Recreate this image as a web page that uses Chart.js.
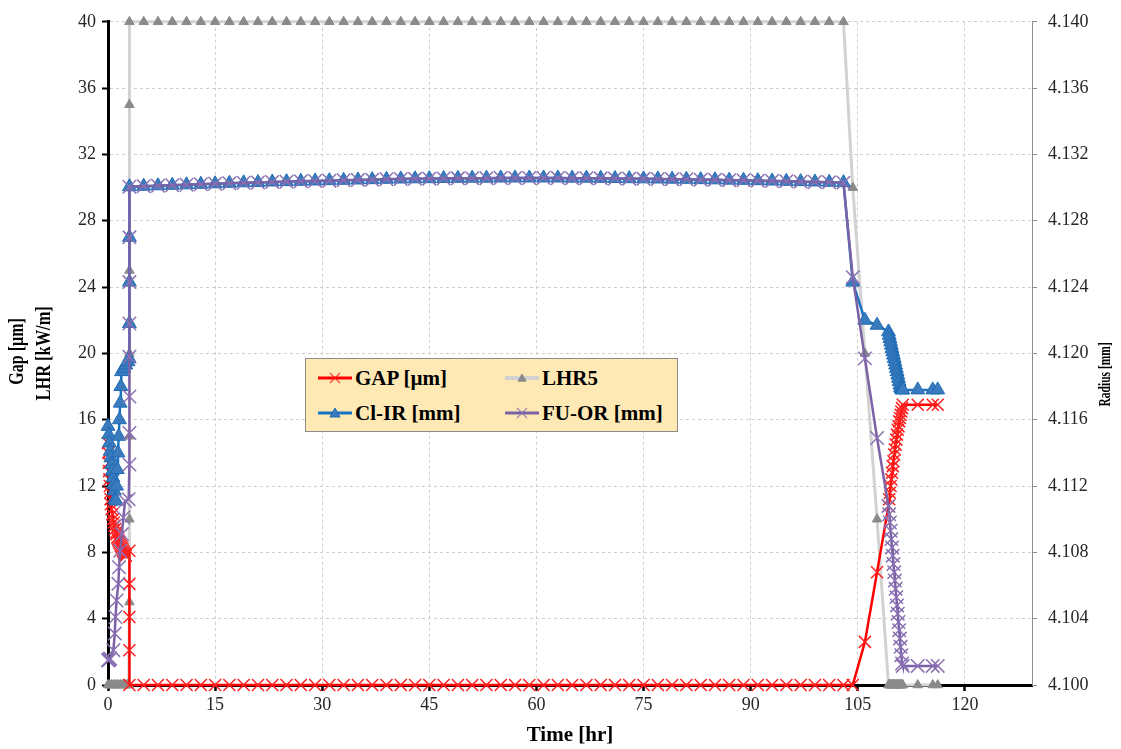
<!DOCTYPE html>
<html>
<head>
<meta charset="utf-8">
<script src="https://cdn.jsdelivr.net/npm/chart.js@4.4.1/dist/chart.umd.min.js"></script>
<style>
  html,body{margin:0;padding:0;background:#fff;}
  #wrap{position:relative;width:1121px;height:749px;}
  #legend{position:absolute;left:305px;top:358px;width:371px;height:72px;background:#FEE9B5;border:1px solid #8c8c8c;
    font:bold 21px 'Liberation Serif','Times New Roman',serif;color:#000;}
  .item{position:absolute;display:flex;align-items:center;height:24px;white-space:nowrap;}
  .item svg{margin-right:3px;flex:none;}
</style>
</head>
<body>
<div id="wrap">
  <canvas id="c" width="1121" height="749"></canvas>
  <div id="legend"></div>
</div>
<script>
// === DATA (time in hr) ===
const xTicks = [0,15,30,45,60,75,90,105,120];
const yTicks = [0,4,8,12,16,20,24,28,32,36,40];
const y1Ticks = [4.100,4.104,4.108,4.112,4.116,4.120,4.124,4.128,4.132,4.136,4.140];

// full power plateau, shared by all series
const tPlateau = [3,5,7,9,11,13,15,17,19,21,23,25,27,29,31,33,35,37,39,41,43,45,47,49,51,53,55,57,59,61,63,65,67,69,71,73,75,77,79,81,83,85,87,89,91,93,95,97,99,101,103];
// shutdown, shared by all series
const tEnd = [104.3,106.0,107.7,109.3,109.4,109.5,109.6,109.7,109.8,109.9,110.0,110.1,110.2,110.3,110.4,110.5,110.6,110.7,110.8,110.9,111.0,111.1,111.2,111.3,113.4,115.5,116.2];

// GAP [um]
const gapStartT = [0,0.05,0.1,0.15,0.2,0.25,0.3,0.35,0.4,0.5,0.6,0.7,0.8,0.9,1.0,1.1,1.2,1.3,1.4,1.5,1.6,1.7,1.8,1.9,2.0,2.1,2.2,2.3,2.4,2.5,3,3,3,3];
const gapStart = [14.6,14.0,13.4,12.9,12.4,12.0,11.6,11.2,10.9,10.6,10.3,10.0,9.8,9.6,9.4,9.2,9.1,8.9,8.8,8.7,8.6,8.5,8.4,8.3,8.2,8.1,8.0,7.9,7.85,7.8,8.1,6.1,4.1,2.1];
const gapPlateau = [0,0,0,0,0,0,0,0,0,0,0,0,0,0,0,0,0,0,0,0,0,0,0,0,0,0,0,0,0,0,0,0,0,0,0,0,0,0,0,0,0,0,0,0,0,0,0,0,0,0,0];
const gapEnd = [0,2.6,6.8,10.8,11.2,11.6,12.0,12.4,12.8,13.2,13.5,13.9,14.2,14.5,14.8,15.1,15.4,15.6,15.9,16.1,16.3,16.5,16.7,16.9,16.9,16.9,16.9];

// LHR5 [kW/m]
const lhrStartT = [0,0.25,0.5,0.75,1.0,1.25,1.5,1.75,2.0,2.25,2.5,2.75,2.9,3,3,3,3,3,3,3];
const lhrStart = [0,0,0,0,0,0,0,0,0,0,0,0,0,5,10,15,20,25,30,35];
const lhrPlateau = [40,40,40,40,40,40,40,40,40,40,40,40,40,40,40,40,40,40,40,40,40,40,40,40,40,40,40,40,40,40,40,40,40,40,40,40,40,40,40,40,40,40,40,40,40,40,40,40,40,40,40];
const lhrEnd = [30,20,10,0,0,0,0,0,0,0,0,0,0,0,0,0,0,0,0,0,0,0,0,0,0,0,0];

// Cl-IR [mm]
const clirStartT = [0,0.1,0.2,0.3,0.4,0.5,0.6,0.7,0.8,0.9,1.0,1.1,1.2,1.3,1.4,1.5,1.6,1.7,1.8,1.9,2.2,2.5,2.8,2.95,3,3,3];
const clirStart = [4.1156,4.1151,4.1146,4.1141,4.1137,4.1133,4.1129,4.1125,4.1121,4.1117,4.1112,4.1111,4.1120,4.1130,4.1140,4.1150,4.1160,4.1170,4.1180,4.1189,4.1191,4.1193,4.1195,4.1197,4.1218,4.1243,4.1270];
const clirPlateau = [4.13005,4.13008,4.13011,4.13014,4.13017,4.13020,4.13023,4.13026,4.13029,4.13031,
  4.13034,4.13036,4.13038,4.13040,4.13042,4.13044,4.13046,4.13048,4.13050,4.13052,
  4.13053,4.13054,4.13055,4.13056,4.13057,4.13057,4.13058,4.13058,4.13058,4.13058,
  4.13058,4.13057,4.13057,4.13056,4.13055,4.13054,4.13053,4.13052,4.13051,4.13050,
  4.13048,4.13047,4.13045,4.13044,4.13042,4.13040,4.13038,4.13036,4.13034,4.13032,4.13030];
const clirEnd = [4.1243,4.1220,4.1217,4.1213,4.1211,4.1209,4.1207,4.1205,4.1203,4.1201,4.1199,4.1197,4.1195,4.1193,4.1191,4.1189,4.1187,4.1185,4.1183,4.1181,4.11795,4.11785,4.1178,4.1178,4.1178,4.1178,4.1178];

// FU-OR [mm]
const fuorStartT = [0,0.1,0.2,0.3,0.75,0.95,1.05,1.2,1.45,1.55,1.7,1.95,2.15,2.4,2.9,3,3,3,3,3,3,3];
const fuorStart = [4.1015,4.1015,4.10155,4.1016,4.1021,4.1031,4.1041,4.1051,4.1061,4.1071,4.1081,4.1091,4.1101,4.1111,4.1112,4.1133,4.1152,4.1174,4.1198,4.1218,4.1243,4.1270];
const fuorPlateau = clirPlateau; // gap closed: fuel OR sits on clad IR
const fuorEnd = [4.1246,4.1197,4.1149,4.1108,4.1103,4.1098,4.1093,4.1088,4.1083,4.1078,4.1073,4.1068,4.1063,4.1058,4.1053,4.1048,4.1043,4.1038,4.1033,4.1028,4.1023,4.1018,4.1013,4.10115,4.10115,4.10115,4.10115];

// === CHART ===
const FONT = "'Liberation Serif','Times New Roman',serif";
const pts = (ts, vs) => ts.map((t, i) => ({x: t, y: vs[i]}));

const datasets = [
  {label:'GAP [µm]', yAxisID:'y', order:3,
   data:pts([...gapStartT, ...tPlateau, ...tEnd], [...gapStart, ...gapPlateau, ...gapEnd]),
   borderColor:'#FF0000', borderWidth:2.5, pointStyle:'crossRot', pointRadius:8.5,
   pointBorderColor:'#FF2020', pointBackgroundColor:'#FF2020', pointBorderWidth:1.5},
  {label:'LHR5', yAxisID:'y', order:4,
   data:pts([...lhrStartT, ...tPlateau, ...tEnd], [...lhrStart, ...lhrPlateau, ...lhrEnd]),
   borderColor:'#d2d2d2', borderWidth:3, pointStyle:'triangle', pointRadius:5.5,
   pointBorderColor:'#8a8a8a', pointBackgroundColor:'#8a8a8a', pointBorderWidth:1},
  {label:'Cl-IR [mm]', yAxisID:'y1', order:2,
   data:pts([...clirStartT, ...tPlateau, ...tEnd], [...clirStart, ...clirPlateau, ...clirEnd]),
   borderColor:'#1a72c2', borderWidth:2.5, pointStyle:'triangle', pointRadius:8,
   pointBorderColor:'#1f6cb6', pointBackgroundColor:'#3a7bbd', pointBorderWidth:1},
  {label:'FU-OR [mm]', yAxisID:'y1', order:1,
   data:pts([...fuorStartT, ...tPlateau, ...tEnd], [...fuorStart, ...fuorPlateau, ...fuorEnd]),
   borderColor:'#7b62a6', borderWidth:2.5, pointStyle:'crossRot', pointRadius:9.5,
   pointBorderColor:'#8a70b2', pointBackgroundColor:'#8a70b2', pointBorderWidth:1.5},
];
datasets.forEach(d => { d.tension = 0; d.fill = false; d.clip = false; });

const setTicks = arr => scale => { scale.ticks = arr.map(v => ({value: v})); };

// rotated side titles (bottom-to-top, condensed like the original)
const sideTitles = {
  id:'sideTitles',
  afterDraw(chart) {
    const ctx = chart.ctx, a = chart.chartArea;
    const mid = (a.top + a.bottom) / 2;
    const draw = (txt, x, y, size, squeeze) => {
      ctx.save();
      ctx.translate(x, y); ctx.rotate(-Math.PI / 2); ctx.scale(squeeze, 1);
      ctx.font = `bold ${size}px ${FONT}`;
      ctx.fillStyle = '#000'; ctx.textAlign = 'center'; ctx.textBaseline = 'middle';
      ctx.fillText(txt, 0, 0);
      ctx.restore();
    };
    draw('Gap [µm]', 18, mid - 2, 20, 0.8);
    draw('LHR [kW/m]', 45, mid, 20, 0.82);
    draw('Radius [mm]', 1106, mid + 21, 16, 0.72);
  }
};

const tickFont = {family: FONT, size: 18};
const chart = new Chart(document.getElementById('c'), {
  type:'line',
  data:{datasets},
  plugins:[sideTitles],
  options:{responsive:false, animation:false,
    layout:{padding:{top:18, left:0, right:0, bottom:0}},
    plugins:{legend:{display:false}, tooltip:{enabled:false}},
    scales:{
      x:{type:'linear', min:0, max:129.4, afterBuildTicks:setTicks(xTicks), afterFit:s => { s.height = 64; },
        ticks:{font:tickFont, color:'#262626', padding:3, maxRotation:0},
        grid:{color:'#cfcfcf', tickColor:'#000', tickLength:6, tickWidth:2.5},
        border:{color:'#000', width:3, dash:[3,3]},
        title:{display:true, text:'Time [hr]', color:'#000',
          font:{family:FONT, size:21, weight:'bold'}, padding:{top:0, bottom:1}}},
      y:{position:'left', min:0, max:40, afterBuildTicks:setTicks(yTicks), afterFit:s => { s.width = 108; },
        ticks:{font:tickFont, color:'#262626', padding:6},
        grid:{color:'#cfcfcf', tickColor:'#000', tickLength:6, tickWidth:2},
        border:{color:'#000', width:3, dash:[3,3]}},
      y1:{position:'right', min:4.1, max:4.14, afterBuildTicks:setTicks(y1Ticks), afterFit:s => { s.width = 89; },
        ticks:{font:tickFont, color:'#262626', padding:11, callback:v => v.toFixed(3)},
        grid:{drawOnChartArea:false, color:'#8c8c8c', tickColor:'#8c8c8c', tickLength:5, tickWidth:1},
        border:{color:'#8c8c8c', width:1}}
    }}
});

// === LEGEND (html overlay) ===
function sampleSvg(ds) {
  let mark;
  if (ds.pointStyle === 'triangle') {
    const h = ds.label === 'LHR5' ? 4 : 5;
    mark = `<polygon points="17,${8-h} ${17+h},${8+h*0.8} ${17-h},${8+h*0.8}" fill="${ds.pointBackgroundColor}" stroke="${ds.pointBorderColor}" stroke-width="1"/>`;
  } else {
    mark = `<path d="M12 3L22 13M22 3L12 13" stroke="${ds.pointBorderColor}" stroke-width="1.3" opacity="0.8"/>`;
  }
  return `<svg width="34" height="16"><line x1="0" y1="8" x2="34" y2="8" stroke="${ds.borderColor}" stroke-width="${ds.label === 'LHR5' ? 4 : 3}"/>${mark}</svg>`;
}
const legendSlots = [[12,7],[199,7],[12,42],[199,42]];
const legendEl = document.getElementById('legend');
chart.data.datasets.forEach((ds, i) => {
  const it = document.createElement('div');
  it.className = 'item';
  it.style.left = legendSlots[i][0] + 'px';
  it.style.top = legendSlots[i][1] + 'px';
  it.innerHTML = sampleSvg(ds) + `<span>${ds.label}</span>`;
  legendEl.appendChild(it);
});
</script>
</body>
</html>
